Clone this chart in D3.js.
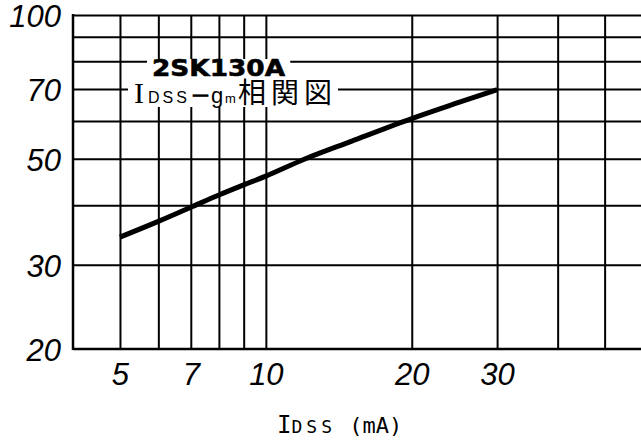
<!DOCTYPE html>
<html>
<head>
<meta charset="utf-8">
<script src="https://cdn.jsdelivr.net/npm/d3@7"></script>
<style>
  body { margin: 0; background: #fff; }
  .grid line { stroke: #000; stroke-width: 2; }
  .grid path { display: none; }
  .labels path, .labels line { display: none; }
  .labels text { font-family: "Liberation Sans", Arial, sans-serif; font-style: italic; font-size: 31px; fill: #000; }
</style>
</head>
<body>
<div id="chart"></div>
<script>
// Idss (mA) vs gm (mS)
const idss = [5, 6, 7, 8, 9, 10, 12, 15, 20, 25, 30];
const gm = [34.3, 37.0, 39.6, 42.0, 44.1, 46.0, 49.9, 54.4, 60.7, 65.6, 69.8];

const xTickLabels = [5, 7, 10, 20, 30];
const xGridValues = [5, 6, 7, 8, 9, 10, 20, 30, 40, 50];
const yTickLabels = [20, 30, 50, 70, 100];
const yGridValues = [30, 40, 50, 60, 70, 80, 90, 100];

const width = 641, height = 442;
const plot = {left: 73, right: 643, top: 15, bottom: 349};

var svg = d3.select("#chart")
    .append("svg")
    .attr("width", width)
    .attr("height", height);

const x = d3.scaleLog().domain([4, 60]).range([plot.left, plot.right]);
const y = d3.scaleLog().domain([20, 100]).range([plot.bottom, plot.top]);

// grid
svg.append("g")
    .attr("class", "grid")
    .attr("transform", "translate(0," + plot.bottom + ")")
    .call(d3.axisBottom(x).tickValues(xGridValues).tickFormat("").tickSize(-(plot.bottom - plot.top)));

svg.append("g")
    .attr("class", "grid")
    .attr("transform", "translate(" + plot.left + ",0)")
    .call(d3.axisLeft(y).tickValues(yGridValues).tickFormat("").tickSize(-(plot.right - plot.left)));

// frame: left and bottom edge
svg.append("line")
    .attr("x1", x(4)).attr("x2", x(4))
    .attr("y1", y(100) - 1).attr("y2", y(20) + 1)
    .attr("stroke", "#000").attr("stroke-width", 2.5);
svg.append("line")
    .attr("x1", x(4)).attr("x2", x(60))
    .attr("y1", y(20)).attr("y2", y(20))
    .attr("stroke", "#000").attr("stroke-width", 2.5);

// tick labels
var yAx = svg.append("g")
    .attr("class", "labels")
    .attr("transform", "translate(" + plot.left + ",0)")
    .call(d3.axisLeft(y).tickValues(yTickLabels).tickFormat(d3.format("d")).tickSize(0).tickPadding(12));
yAx.selectAll("text").attr("dy", "0.38em");

var xAx = svg.append("g")
    .attr("class", "labels")
    .attr("transform", "translate(0," + plot.bottom + ")")
    .call(d3.axisBottom(x).tickValues(xTickLabels).tickFormat(d3.format("d")).tickSize(0).tickPadding(14));

// title block, white behind so grid breaks around it
var title = svg.append("g");
var t1 = title.append("text")
    .attr("x", 152).attr("y", 76)
    .attr("textLength", 133).attr("lengthAdjust", "spacingAndGlyphs")
    .style("font-family", "DejaVu Sans, sans-serif")
    .style("font-weight", "bold")
    .style("font-size", "23px")
    .style("stroke", "#000").style("stroke-width", 0.6)
    .text("2SK130A");

var t2 = title.append("text").attr("y", 103);
t2.append("tspan").attr("x", 134)
    .style("font-family", "Liberation Serif, serif").style("font-size", "30px")
    .text("I");
t2.append("tspan").attr("x", 148)
    .style("font-family", "Liberation Sans, sans-serif").style("font-size", "16px").style("letter-spacing", "3px")
    .text("DSS");
t2.append("tspan").attr("x", 193).attr("y", 100)
    .style("font-family", "Liberation Sans, sans-serif").style("font-size", "15px").style("font-weight", "bold")
    .style("stroke", "#000").style("stroke-width", 0.8)
    .text("—");
t2.append("tspan").attr("x", 211).attr("y", 103)
    .style("font-family", "Liberation Sans, sans-serif").style("font-size", "22px")
    .text("g");
t2.append("tspan").attr("x", 225)
    .style("font-family", "Liberation Sans, sans-serif").style("font-size", "13px")
    .text("m");
t2.append("tspan").attr("x", 238)
    .style("font-family", "Noto Sans CJK JP, sans-serif").style("font-size", "28px").style("letter-spacing", "5px")
    .text("相関図");

[[t1, 5, 4, 0], [t2, 6, 5, -5]].forEach(function (p) {
    var b = p[0].node().getBBox();
    title.insert("rect", "text")
        .attr("x", b.x - p[1]).attr("y", b.y + p[2])
        .attr("width", b.width + 2 * p[1] + p[3]).attr("height", b.height - p[2] - 4)
        .attr("fill", "#fff");
});

// curve
var pts = idss.map(function (d, i) { return [d, gm[i]]; });
svg.append("path")
    .datum(pts)
    .attr("fill", "none")
    .attr("stroke", "#000")
    .attr("stroke-width", 5)
    .attr("d", d3.line().x(function (d) { return x(d[0]); }).y(function (d) { return y(d[1]); }).curve(d3.curveMonotoneX));

// axis title
var xt = svg.append("text")
    .attr("x", 277).attr("y", 433)
    .style("font-family", "DejaVu Sans Mono, monospace");
xt.append("tspan").style("font-size", "24px").text("I");
xt.append("tspan").style("font-size", "18px").style("letter-spacing", "4px").text("DSS");
xt.append("tspan").style("font-size", "22px").text(" (mA)");
</script>
</body>
</html>
